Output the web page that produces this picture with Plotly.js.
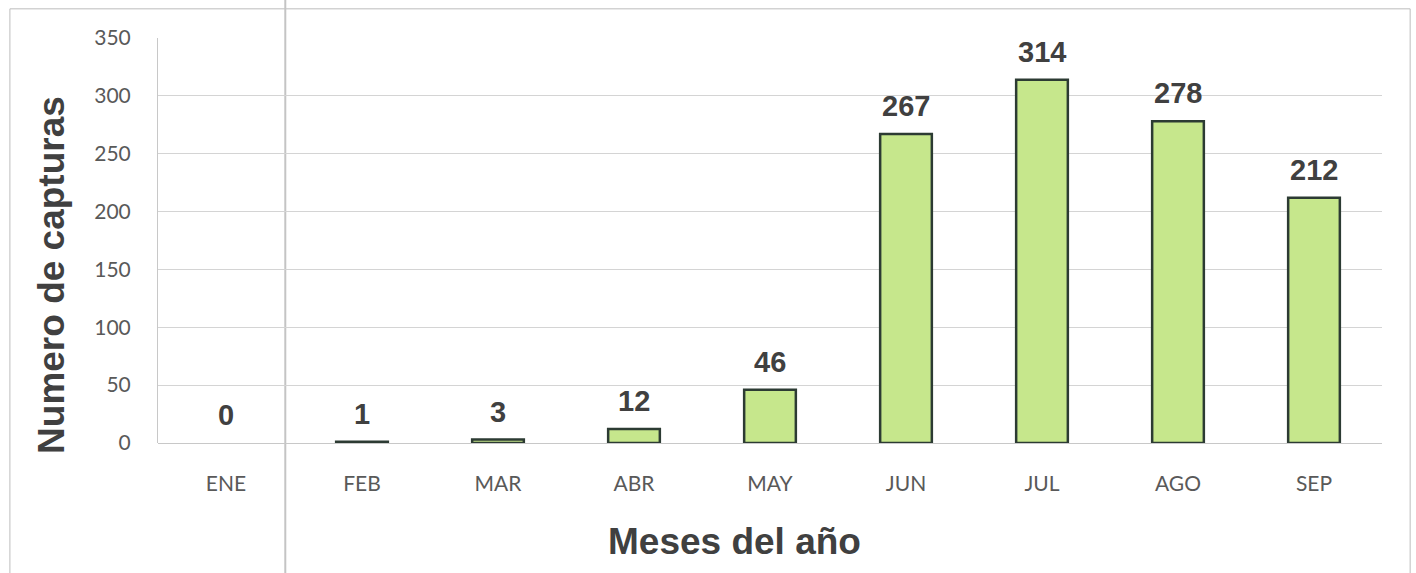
<!DOCTYPE html>
<html>
<head>
<meta charset="utf-8">
<script src="https://cdn.plot.ly/plotly-3.0.1.min.js"></script>
<style>html,body{margin:0;padding:0;background:#fff;}#chart{width:1416px;height:573px;}</style>
</head>
<body>
<div id="chart"></div>
<script>
const months = ["ENE","FEB","MAR","ABR","MAY","JUN","JUL","AGO","SEP"];
const capturas = [0, 1, 3, 12, 46, 267, 314, 278, 212];
const yTicks = [0, 50, 100, 150, 200, 250, 300, 350];
const xTitle = "Meses del año";
const yTitle = "Numero de capturas";

const trace = {
  type: "bar",
  x: months,
  y: capturas,
  marker: { color: "#c6e78c", line: { color: "#2c3b33", width: capturas.map(v => v > 0 ? 2.5 : 0) } },
  hoverinfo: "x+y"
};

const titleFont = { family: "Liberation Sans, Arial, sans-serif", size: 37, color: "#404040", weight: "bold" };

const annotations = months.map((m, i) => ({
  x: m, y: capturas[i], xref: "x", yref: "y",
  text: String(capturas[i]), showarrow: false,
  yanchor: "bottom", yshift: 10,
  font: { family: "Liberation Sans, Arial, sans-serif", size: 29, color: "#404040", weight: "bold" }
})).concat([
  { xref: "paper", yref: "paper", x: 0.471, y: -0.244, xanchor: "center", yanchor: "middle",
    text: xTitle, showarrow: false, font: titleFont },
  { xref: "paper", yref: "paper", x: -0.0866, y: 0.415, xanchor: "center", yanchor: "middle",
    text: yTitle, textangle: -90, showarrow: false, font: titleFont }
]);

const layout = {
  width: 1416, height: 573,
  margin: { l: 158, r: 34, t: 38, b: 130 },
  paper_bgcolor: "#ffffff", plot_bgcolor: "#ffffff",
  showlegend: false,
  bargap: 0.62,
  xaxis: {
    type: "category",
    tickfont: { family: "Lato, Open Sans, sans-serif", size: 21, color: "#595959" },
    ticks: "", ticklabelstandoff: 26,
    showgrid: false, zeroline: false, showline: false
  },
  yaxis: {
    range: [0, 350],
    tickvals: yTicks,
    tickfont: { family: "Lato, Open Sans, sans-serif", size: 21, color: "#595959" },
    ticks: "", ticklabelstandoff: 22,
    showgrid: true, gridcolor: "#d4d4d4", gridwidth: 1,
    zeroline: true, zerolinecolor: "#c8c8c8", zerolinewidth: 1,
    showline: true, linecolor: "#c8c8c8", linewidth: 1
  },
  annotations: annotations,
  shapes: [
    { type: "rect", xref: "paper", yref: "paper", x0: -0.121, x1: 1.023, y0: -0.4, y1: 1.072,
      line: { color: "#bdbdbd", width: 1 }, layer: "below" },
    { type: "line", xref: "paper", yref: "paper", x0: 0.104, x1: 0.104, y0: -0.4, y1: 1.1,
      line: { color: "#c4c4c4", width: 2 }, layer: "below" }
  ]
};

Plotly.newPlot("chart", [trace], layout, { displayModeBar: false, staticPlot: true });
</script>
</body>
</html>
